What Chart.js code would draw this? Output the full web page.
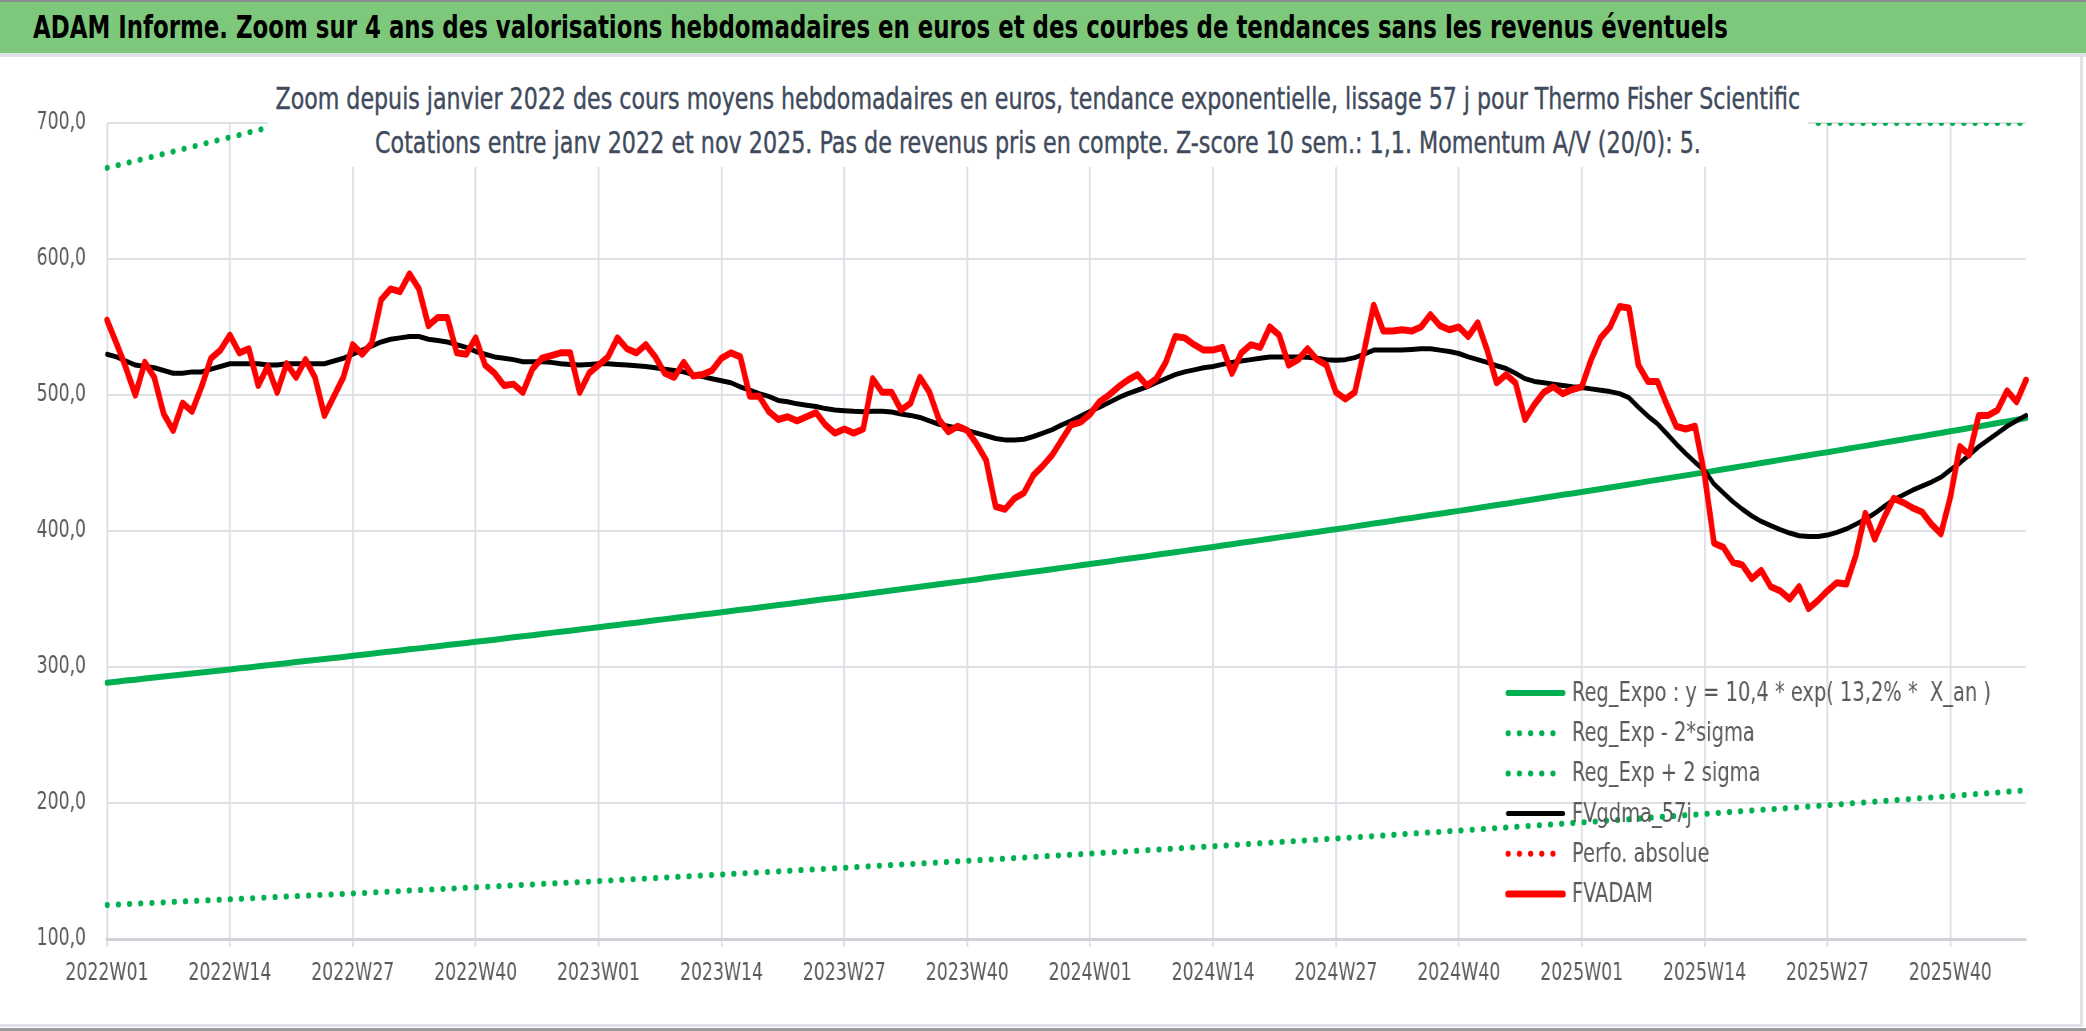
<!DOCTYPE html>
<html>
<head>
<meta charset="utf-8">
<script src="https://cdn.jsdelivr.net/npm/chart.js@4.4.1/dist/chart.umd.min.js"></script>
<style>
  html, body { margin: 0; padding: 0; width: 2086px; height: 1031px; overflow: hidden; background: #fff; }
  #bar { position: absolute; left: 0; top: 0; width: 2086px; height: 53px; background: #7dc87b; border-top: 2px solid #8c8c8c; box-sizing: border-box; }
  #barText { position: absolute; left: 33px; top: 7px; font: bold 32px "Liberation Sans Narrow", "DejaVu Sans Condensed", sans-serif; color: #000; white-space: nowrap; line-height: 36px; transform-origin: 0 50%; }
  #sep { position: absolute; left: 0; top: 53px; width: 2086px; height: 4px; background: #dfe3e8; }
  #wrap { position: absolute; left: 0; top: 57px; width: 2080px; height: 967px; }
  #chart { width: 2080px; height: 967px; }
  #rightEdge { position: absolute; left: 2080px; top: 53px; width: 3px; height: 974px; background: #dfe3e8; }
  #bottomEdge { position: absolute; left: 0; top: 1024px; width: 2083px; height: 3px; background: #dfe3e8; }
  #bottomDark { position: absolute; left: 0; top: 1028px; width: 2086px; height: 3px; background: #9a9a9a; }
  #sub { position: absolute; left: 268px; top: 76px; width: 1540px; height: 91px; background: #fff; }
  .sl { position: absolute; left: 770px; top: 0; font: 30px "Liberation Sans Narrow", "DejaVu Sans Condensed", sans-serif; color: #3f4b5c; -webkit-text-stroke: 0.4px #3f4b5c; white-space: nowrap; line-height: 34px; transform-origin: 0 50%; }
</style>
</head>
<body>
<div id="bar"><span id="barText">ADAM Informe. Zoom sur 4 ans des valorisations hebdomadaires en euros et des courbes de tendances sans les revenus éventuels</span></div>
<div id="sep"></div>
<div id="rightEdge"></div>
<div id="bottomEdge"></div>
<div id="bottomDark"></div>
<div id="wrap"><canvas id="chart" width="2600" height="967" style="width:2080px;height:967px"></canvas></div>
<div id="sub">
  <span class="sl" id="sub1" style="top:6px">Zoom depuis janvier 2022 des cours moyens hebdomadaires en euros, tendance exponentielle, lissage 57 j pour Thermo Fisher Scientific</span>
  <span class="sl" id="sub2" style="top:50px">Cotations entre janv 2022 et nov 2025. Pas de revenus pris en compte. Z-score 10 sem.: 1,1. Momentum A/V (20/0): 5.</span>
</div>
<script>
// weeks shown: 2022W01 .. 2025W48
var years = [2022, 2023, 2024, 2025];
var weeksInYear = [52, 52, 52, 48];

// y axis
var yMin = 100;
var yMax = 700;
var yStep = 100;

// FVADAM, weekly average price in euros
var fvadam = [
  555, 538, 520, 500, 524, 513, 486, 474, 494, 488, 506, 527, 533,
  544, 531, 534, 507, 521, 502, 523, 513, 526, 513, 485, 499, 513,
  537, 530, 538, 570, 578, 576, 589, 578, 551, 557, 557, 531, 530,
  542, 522, 516, 507, 508, 502, 519, 527, 529, 531, 531, 502, 516,
  522, 528, 542, 534, 531, 537, 528, 516, 513, 524, 514, 515, 518,
  527, 531, 528, 499, 499, 488, 482, 484, 481, 484, 487, 478, 472,
  475, 472, 475, 512, 502, 502, 489, 494, 513, 502, 482, 473, 477,
  474, 464, 452, 418, 416, 424, 428, 441, 448, 456, 467, 478, 480,
  486, 495, 500, 506, 511, 515, 507, 512, 524, 543, 542, 537, 533,
  533, 535, 516, 531, 537, 535, 550, 544, 522, 526, 534, 526, 522,
  502, 497, 502, 533, 566, 547, 547, 548, 547, 550, 559, 551, 548,
  550, 543, 553, 533, 509, 515, 509, 482, 493, 502, 506, 501, 504,
  506, 526, 542, 550, 565, 564, 522, 510, 510, 493, 477, 475, 477,
  441, 391, 388, 377, 375, 365, 371, 359, 356, 350, 359, 343, 349,
  356, 362, 361, 382, 413, 394, 410, 424, 421, 417, 414, 405, 398,
  425, 462, 456, 485, 485, 489, 503, 495, 511
];

// FVgdma_57j, smoothed
var fvgdma = [
  530, 528, 525, 522, 521, 520, 518, 516, 516, 517, 517, 519, 521,
  523, 523, 523, 523, 522, 522, 523, 523, 523, 523, 523, 525, 527,
  530, 533, 536, 539, 541, 542, 543, 543, 541, 540, 539, 537, 535,
  532, 530, 528, 527, 526, 524.5, 524.5, 524.5, 524, 523, 522.5, 522, 522.5,
  523, 523, 522.5, 522, 521.5, 521, 520, 519, 518, 517, 515, 513.5, 512,
  510.5, 509, 506, 503.5, 501, 499, 496, 495, 493.5, 492.5, 491.5, 490, 489,
  488.5, 488, 487.7, 488, 488, 487.5, 486, 485, 483.5, 481, 478.5, 477, 475.5,
  474, 472, 470, 468, 467, 467, 467.5, 469.5, 472, 474.5, 478, 481, 484.5,
  488, 491, 494.5, 498, 501, 503.5, 506, 509, 512, 515, 517, 518.5, 520,
  521, 522.5, 524, 525, 526, 527, 528, 528, 528, 528, 527.7, 527, 526,
  525.5, 526, 527.5, 530, 533, 533, 533, 533, 533.5, 534, 534, 533, 532,
  530.5, 528, 526, 524, 521.5, 519.5, 516, 512, 510, 509, 508, 507, 506,
  505.5, 504.5, 503.5, 502.5, 501, 498, 491, 484.5, 479, 471.5, 464, 457, 450.5,
  444.5, 434.5, 428, 421.5, 416, 411, 407, 404, 401, 398.5, 396.5, 396, 396,
  397, 399, 401.5, 405, 408.5, 413, 418, 423, 426.5, 430, 433, 436, 439.5,
  445, 450, 456, 462, 467, 472, 477, 481, 485
];

// Reg_Expo
var regExpo = [
  288.5, 289.2, 290.0, 290.7, 291.5, 292.2, 293.0, 293.7, 294.5, 295.2, 296.0, 296.7, 297.4,
  298.2, 299.0, 299.7, 300.5, 301.3, 302.0, 302.8, 303.6, 304.4, 305.1, 305.9, 306.7, 307.4,
  308.2, 309.0, 309.8, 310.6, 311.4, 312.2, 313.0, 313.7, 314.5, 315.3, 316.1, 316.9, 317.7,
  318.5, 319.3, 320.1, 321.0, 321.8, 322.6, 323.4, 324.3, 325.1, 325.9, 326.7, 327.6, 328.4,
  329.2, 330.1, 330.9, 331.8, 332.6, 333.5, 334.3, 335.2, 336.0, 336.9, 337.7, 338.6, 339.4,
  340.3, 341.2, 342.1, 342.9, 343.8, 344.7, 345.6, 346.4, 347.3, 348.2, 349.1, 350.0, 350.8,
  351.7, 352.6, 353.5, 354.4, 355.3, 356.2, 357.1, 358.1, 359.0, 359.9, 360.8, 361.7, 362.6,
  363.5, 364.4, 365.4, 366.3, 367.3, 368.2, 369.1, 370.1, 371.0, 371.9, 372.9, 373.8, 374.8,
  375.7, 376.7, 377.6, 378.6, 379.6, 380.5, 381.5, 382.5, 383.5, 384.4, 385.4, 386.4, 387.3,
  388.3, 389.3, 390.3, 391.3, 392.3, 393.3, 394.3, 395.3, 396.3, 397.3, 398.3, 399.3, 400.3,
  401.3, 402.3, 403.4, 404.4, 405.5, 406.5, 407.5, 408.6, 409.6, 410.6, 411.7, 412.7, 413.8,
  414.8, 415.8, 416.9, 418.0, 419.1, 420.1, 421.2, 422.3, 423.4, 424.4, 425.5, 426.6, 427.6,
  428.7, 429.8, 430.9, 432.0, 433.1, 434.2, 435.3, 436.5, 437.6, 438.7, 439.8, 440.9, 442.0,
  443.1, 444.2, 445.4, 446.5, 447.7, 448.8, 450.0, 451.1, 452.3, 453.4, 454.6, 455.7, 456.9,
  457.9, 459.1, 460.3, 461.5, 462.6, 463.8, 465.0, 466.2, 467.3, 468.5, 469.7, 470.9, 472.1,
  473.3, 474.5, 475.7, 476.9, 478.1, 479.4, 480.6, 481.8, 483.0
];

// Reg_Exp - 2*sigma
var regLow = [
  125.0, 125.3, 125.6, 126.0, 126.3, 126.6, 126.9, 127.3, 127.6, 127.9, 128.2, 128.6, 128.9,
  129.2, 129.5, 129.9, 130.2, 130.5, 130.9, 131.2, 131.5, 131.8, 132.2, 132.5, 132.8, 133.2,
  133.5, 133.8, 134.2, 134.5, 134.9, 135.2, 135.6, 135.9, 136.3, 136.6, 137.0, 137.3, 137.7,
  138.0, 138.4, 138.7, 139.1, 139.4, 139.8, 140.1, 140.5, 140.8, 141.2, 141.5, 141.9, 142.2,
  142.6, 143.0, 143.3, 143.7, 144.1, 144.4, 144.8, 145.2, 145.6, 145.9, 146.3, 146.7, 147.0,
  147.4, 147.8, 148.2, 148.6, 149.0, 149.3, 149.7, 150.1, 150.5, 150.9, 151.3, 151.6, 152.0,
  152.4, 152.8, 153.2, 153.6, 154.0, 154.4, 154.8, 155.1, 155.5, 155.9, 156.3, 156.7, 157.1,
  157.5, 157.9, 158.3, 158.7, 159.1, 159.5, 159.9, 160.4, 160.8, 161.2, 161.6, 162.0, 162.4,
  162.8, 163.2, 163.6, 164.0, 164.5, 164.9, 165.3, 165.7, 166.1, 166.5, 167.0, 167.4, 167.8,
  168.2, 168.6, 169.1, 169.5, 170.0, 170.4, 170.8, 171.3, 171.7, 172.1, 172.6, 173.0, 173.5,
  173.9, 174.3, 174.8, 175.2, 175.7, 176.1, 176.6, 177.0, 177.5, 177.9, 178.4, 178.8, 179.3,
  179.7, 180.2, 180.6, 181.1, 181.6, 182.0, 182.5, 183.0, 183.4, 183.9, 184.3, 184.8, 185.3,
  185.7, 186.2, 186.7, 187.2, 187.6, 188.1, 188.6, 189.1, 189.6, 190.1, 190.5, 191.0, 191.5,
  192.0, 192.5, 193.0, 193.5, 194.0, 194.5, 195.0, 195.4, 195.9, 196.4, 196.9, 197.4, 197.9,
  198.4, 198.9, 199.4, 200.0, 200.5, 201.0, 201.5, 202.0, 202.5, 203.0, 203.6, 204.1, 204.6,
  205.1, 205.6, 206.2, 206.7, 207.2, 207.7, 208.3, 208.8, 209.3
];

// Reg_Exp + 2 sigma: only the parts under the 700 ceiling show
var regHighLeft = [
  667.0, 668.7, 670.4, 672.1, 673.8, 675.6, 677.3, 679.0, 680.8,
  682.5, 684.3, 686.0, 687.8, 689.5, 691.2, 693.0, 694.8, 696.5
];
var regHighRight = [
  700, 700, 700, 700, 700, 700, 700, 700, 700, 700, 700, 700,
  700, 700, 700, 700, 700, 700, 700, 700, 700, 700, 700
];

// Perfo. absolue: nothing visible in this zoom
var perfoAbs = [];

var weekLabels = [];
for (var y = 0; y < years.length; y++) {
  for (var w = 1; w <= weeksInYear[y]; w++) {
    weekLabels.push(years[y] + "W" + (w < 10 ? "0" + w : w));
  }
}

var gapLen = weekLabels.length - regHighLeft.length - regHighRight.length;
var regHigh = regHighLeft.concat(new Array(gapLen).fill(null), regHighRight);

var fontName = '"Liberation Sans Narrow", "DejaVu Sans Condensed", sans-serif';

// canvas is drawn wider then squeezed by css, gives narrow text like the original
var squeeze = 0.8;
var dots = [0.5, 13.5];

// stretch the html titles to the width they have in the original
function fitWidth(id, target, centered) {
  var el = document.getElementById(id);
  var w = el.offsetWidth;
  var k = target / w;
  if (centered) {
    el.style.transform = "translateX(" + (-target / 2) + "px) scaleX(" + k + ")";
  } else {
    el.style.transform = "scaleX(" + k + ")";
  }
}
fitWidth("barText", 1695, false);
fitWidth("sub1", 1525, true);
fitWidth("sub2", 1326, true);

// legend drawn inside the plot, bottom right
var innerLegend = {
  id: "innerLegend",
  afterDraw: function (chart) {
    var ctx = chart.ctx;
    var area = chart.chartArea;
    var x0 = area.right - 521 / squeeze;
    var y0 = area.bottom - 246;
    ctx.save();
    ctx.font = "27px " + fontName;
    ctx.textBaseline = "middle";
    chart.data.datasets.forEach(function (ds, i) {
      var yy = y0 + i * 40.2;
      ctx.beginPath();
      ctx.strokeStyle = ds.borderColor;
      ctx.lineWidth = ds.borderWidth;
      ctx.lineCap = "round";
      ctx.setLineDash(ds.borderDash || []);
      ctx.moveTo(x0 + 3 / squeeze, yy);
      ctx.lineTo(x0 + 58 / squeeze, yy);
      ctx.stroke();
      ctx.setLineDash([]);
      ctx.fillStyle = "#595959";
      ctx.fillText(ds.label, x0 + 67 / squeeze, yy + 1);
    });
    ctx.restore();
  },
};

var ctx = document.getElementById("chart").getContext("2d");
new Chart(ctx, {
  type: "line",
  data: {
    labels: weekLabels,
    datasets: [
      {
        label: "Reg_Expo : y = 10,4 * exp( 13,2% *  X_an )",
        data: regExpo,
        borderColor: "#00b050",
        borderWidth: 6,
        order: 5,
      },
      {
        label: "Reg_Exp - 2*sigma",
        data: regLow,
        borderColor: "#00b050",
        borderWidth: 6,
        borderDash: dots,
        borderCapStyle: "round",
        order: 4,
      },
      {
        label: "Reg_Exp + 2 sigma",
        data: regHigh,
        borderColor: "#00b050",
        borderWidth: 6,
        borderDash: dots,
        borderCapStyle: "round",
        order: 3,
      },
      {
        label: "FVgdma_57j",
        data: fvgdma,
        borderColor: "#000000",
        borderWidth: 5,
        order: 1,
      },
      {
        label: "Perfo. absolue",
        data: perfoAbs,
        borderColor: "#ff0000",
        borderWidth: 6,
        borderDash: dots,
        borderCapStyle: "round",
        order: 2,
      },
      {
        label: "FVADAM",
        data: fvadam,
        borderColor: "#ff0000",
        borderWidth: 7,
        order: 0,
      },
    ],
  },
  options: {
    responsive: false,
    devicePixelRatio: 1,
    animation: false,
    spanGaps: false,
    elements: {
      point: { radius: 0, hoverRadius: 0 },
      line: { tension: 0, borderJoinStyle: "round", borderCapStyle: "round" },
    },
    layout: { padding: { left: 0, right: 54 / squeeze, top: 66, bottom: 0 } },
    plugins: {
      legend: { display: false },
      tooltip: { enabled: false },
      title: { display: false },
    },
    scales: {
      x: {
        type: "category",
        afterFit: function (s) { s.height = 85; },
        ticks: {
          autoSkip: false,
          maxRotation: 0,
          minRotation: 0,
          padding: 12,
          color: "#595959",
          font: { family: fontName, size: 24 },
          callback: function (v, i) {
            return i % 13 === 0 ? this.getLabelForValue(v) : "";
          },
        },
        grid: {
          color: function (c) {
            return c.index % 13 === 0 ? "#dde1e6" : "rgba(0,0,0,0)";
          },
          lineWidth: 2.4,
          tickLength: 8,
        },
        border: { display: true, color: "#cfd3d8", width: 3 },
      },
      y: {
        min: yMin,
        max: yMax,
        afterFit: function (s) { s.width = 107 / squeeze; },
        ticks: {
          stepSize: yStep,
          padding: 21 / squeeze,
          color: "#595959",
          font: { family: fontName, size: 24 },
          callback: function (v) {
            return v.toFixed(1).replace(".", ",");
          },
        },
        grid: { color: "#dde1e6", lineWidth: 2, drawTicks: false },
        border: { display: false },
      },
    },
  },
  plugins: [innerLegend],
});
</script>
</body>
</html>
